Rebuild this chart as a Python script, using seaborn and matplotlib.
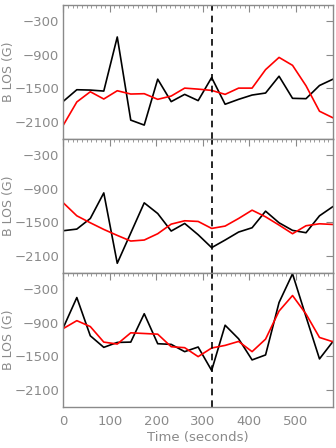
import numpy as np
import pandas as pd
import matplotlib
matplotlib.use("Agg")
import matplotlib.pyplot as plt
import seaborn as sns
from matplotlib.ticker import MultipleLocator

time_s = [0, 29, 58, 87, 116, 145, 174, 203, 232, 261, 290, 319, 348, 377, 406, 435, 464, 493, 522, 551, 580]

p1_black = [-1730, -1523, -1529, -1547, -578, -2067, -2156, -1334, -1736, -1606, -1718,
            -1305, -1783, -1695, -1618, -1582, -1281, -1677, -1683, -1447, -1334]
p1_red = [-2156, -1742, -1559, -1689, -1541, -1600, -1594, -1695, -1636, -1494, -1512,
          -1535, -1606, -1494, -1494, -1163, -944, -1086, -1452, -1908, -2026]

p2_black = [-1648, -1619, -1429, -971, -2231, -1690, -1149, -1340, -1654, -1518, -1720,
            -1951, -1815, -1672, -1595, -1298, -1506, -1642, -1684, -1381, -1215]
p2_red = [-1149, -1381, -1506, -1625, -1732, -1833, -1815, -1702, -1530, -1470, -1482,
          -1607, -1565, -1429, -1280, -1399, -1547, -1702, -1559, -1524, -1536]

p3_black = [-983, -445, -1130, -1337, -1249, -1243, -735, -1272, -1284, -1414, -1331,
            -1751, -941, -1184, -1562, -1473, -534, -20, -788, -1544, -1231]
p3_red = [-1000, -859, -965, -1243, -1278, -1077, -1089, -1101, -1326, -1343, -1503,
          -1349, -1302, -1231, -1414, -1190, -687, -409, -740, -1160, -1237]

y_ticks = [-300, -900, -1500, -2100]
x_ticks = [0, 100, 200, 300, 400, 500]
event_time = 319

sns.set_style("white")
plt.rcParams['font.family'] = ['DejaVu Sans']
grey = "#8a8a8a"

fig = plt.figure(figsize=(3.36, 4.48), dpi=100)
left, width, h = 0.1885, 0.8025, 0.2991
bottoms = [0.6904, 0.3913, 0.0922]
panels = [(p1_black, p1_red), (p2_black, p2_red), (p3_black, p3_red)]

for i, (blk, red) in enumerate(panels):
    ax = fig.add_axes([left, bottoms[i], width, h])
    df = pd.DataFrame({"t": time_s, "black": blk, "red": red})
    sns.lineplot(data=df, x="t", y="black", ax=ax, color="black", lw=1.2)
    sns.lineplot(data=df, x="t", y="red", ax=ax, color="#ff0000", lw=1.2)
    ax.axvline(event_time, color="black", ls=(0, (4, 3)), lw=1.2)
    ax.set_xlim(0, 580)
    ax.set_ylim(-2400, 0)
    ax.set_yticks(y_ticks)
    ax.set_yticklabels([str(v).replace("-", "\u2212") for v in y_ticks])
    ax.set_xticks(x_ticks)
    ax.xaxis.set_minor_locator(MultipleLocator(10))
    ax.tick_params(axis="both", which="both", direction="in", colors=grey,
                   labelcolor=grey, top=True, right=True, labelsize=9.5)
    ax.tick_params(axis="x", which="major", length=5, pad=6)
    ax.tick_params(axis="x", which="minor", length=2.5)
    ax.tick_params(axis="y", which="major", length=5, pad=3)
    for s in ax.spines.values():
        s.set_color(grey)
        s.set_linewidth(1.0)
    ax.set_ylabel("B LOS (G)", color=grey, fontsize=9)
    ax.yaxis.set_label_coords(-0.18, 0.5)
    if i < 2:
        ax.set_xticklabels([])
        ax.set_xlabel("")
    else:
        ax.set_xlabel("Time (seconds)", color=grey, fontsize=9.5, labelpad=2)

fig.savefig("out.png", dpi=100)
